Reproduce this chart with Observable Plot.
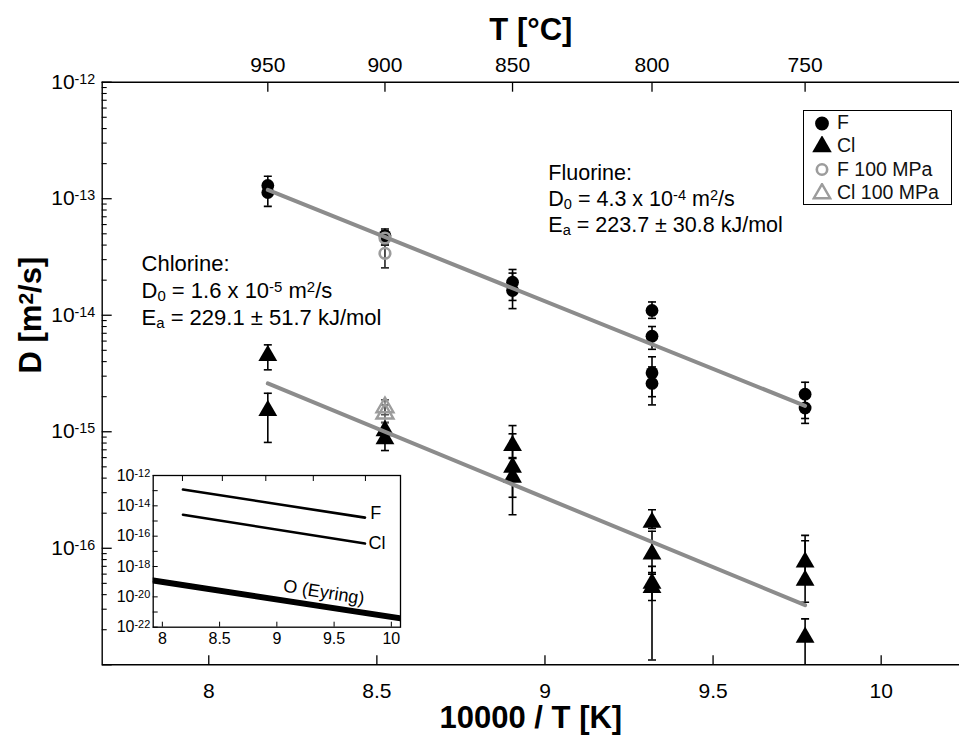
<!DOCTYPE html>
<html><head><meta charset="utf-8">
<script src="https://cdn.jsdelivr.net/npm/d3@7"></script>
<script src="https://cdn.jsdelivr.net/npm/@observablehq/plot@0.6"></script>
<style>
body{margin:0;background:#fff;}
#wrap{position:relative;width:959px;height:736px;font-family:"Liberation Sans",Arial,Helvetica,sans-serif;}
#inset{position:absolute;left:100px;top:460px;}
#legend{position:absolute;left:803px;top:110px;width:149px;height:95px;border:1.3px solid #000;background:#fff;box-sizing:border-box;}
#legend .row{position:absolute;left:0;height:23px;display:flex;align-items:center;font-size:19.5px;color:#111;white-space:nowrap;}
#legend .row svg{margin-left:8px;margin-right:5px;}
</style></head><body><div id="wrap"><div id="inset"></div><div id="legend"></div></div>
<script>
// ---------- data ----------
const xDomain = [7.683, 10.233];          // 10000/T [K] axis extent
const yDomain = [1e-17, 1e-12];           // D [m2/s] axis extent
const xTicks = [8, 8.5, 9, 9.5, 10];
const tempTicksC = [950, 900, 850, 800, 750];
const yDecades = [1e-12, 1e-13, 1e-14, 1e-15, 1e-16, 1e-17];
const yLabels = [1e-12, 1e-13, 1e-14, 1e-15, 1e-16];

// F (black circles)
const fT  = [950, 950, 900, 850, 850, 800, 800, 800, 800, 750, 750];
const fD  = [1.30e-13, 1.13e-13, 4.8e-14, 1.92e-14, 1.63e-14, 1.10e-14, 6.6e-15, 3.2e-15, 2.6e-15, 2.1e-15, 1.6e-15];
const fLo = [1.05e-13, 8.6e-14, 4.2e-14, 1.34e-14, 1.14e-14, 9.4e-15, 5.1e-15, 2.0e-15, 1.7e-15, 1.3e-15, 1.18e-15];
const fHi = [1.56e-13, 1.35e-13, 5.5e-14, 2.47e-14, 2.3e-14, 1.30e-14, 8.0e-15, 4.4e-15, 3.6e-15, 2.66e-15, 2.1e-15];
// F 100 MPa (grey open circles)
const f100T  = [900, 900];
const f100D  = [4.6e-14, 3.4e-14];
const f100Lo = [4.0e-14, 2.55e-14];
const f100Hi = [5.3e-14, 4.0e-14];
// Cl (black triangles)
const clT  = [950, 950, 900, 900, 850, 850, 850, 800, 800, 800, 800, 750, 750, 750];
const clD  = [4.5e-15, 1.52e-15, 1.02e-15, 8.7e-16, 7.6e-16, 4.96e-16, 4.07e-16, 1.67e-16, 8.9e-17, 5.0e-17, 4.6e-17, 7.6e-17, 5.3e-17, 1.72e-17];
const clLo = [3.4e-15, 8.1e-16, 8.5e-16, 6.9e-16, 5.9e-16, 2.74e-16, 1.94e-16, 1.48e-16, 6.2e-17, 3.56e-17, 1.1e-17, 5.2e-17, 3.44e-17, 5e-18];
const clHi = [5.57e-15, 2.14e-15, 1.2e-15, 1.0e-15, 1.13e-15, 9.6e-16, 6.0e-16, 2.14e-16, 1.4e-16, 7e-17, 6e-17, 1.29e-16, 1.16e-16, 2.48e-17];
// Cl 100 MPa (grey open triangles)
const cl100T  = [900, 900];
const cl100D  = [1.62e-15, 1.43e-15];
const cl100Lo = [1.4e-15, 1.2e-15];
const cl100Hi = [1.88e-15, 1.7e-15];
// Arrhenius fit lines (end points)
const fitT   = [950, 750];
const fitFD  = [1.19e-13, 1.67e-15];
const fitClD = [2.6e-15, 3.25e-17];

// annotations
const fluorineText = ["Fluorine:", "D_{0} = 4.3 x 10^{-4} m^{2}/s", "E_{a} = 223.7 ± 30.8 kJ/mol"];
const fluorineX = 9.01;
const fluorineY = [1.66e-13, 9.9e-14, 5.9e-14];
const chlorineText = ["Chlorine:", "D_{0} = 1.6 x 10^{-5} m^{2}/s", "E_{a} = 229.1 ± 51.7 kJ/mol"];
const chlorineX = 7.80;
const chlorineY = [2.75e-14, 1.62e-14, 9.4e-15];

// inset
const insetXDomain = [7.92, 10.08];
const insetYDomain = [1e-22, 1e-12];
const insetXTicks = [8, 8.5, 9, 9.5, 10];
const insetYDecades = [1e-12,1e-13,1e-14,1e-15,1e-16,1e-17,1e-18,1e-19,1e-20,1e-21,1e-22];
const insetYLabels = [1e-12, 1e-14, 1e-16, 1e-18, 1e-20, 1e-22];
const insetLineX = [8.18, 9.77];
const insetFD = [1.19e-13, 1.67e-15];
const insetClD = [2.6e-15, 3.25e-17];
const insetOX = [7.92, 10.08];
const insetOD = [1.2e-19, 3.8e-22];
const insetLabels = ["F", "Cl", "O (Eyring)"];
const insetLabelX = [9.815, 9.80, 9.41];
const insetLabelY = [3.1e-15, 3.5e-17, 2.0e-20];

const legendLabels = ["F", "Cl", "F 100 MPa", "Cl 100 MPa"];

// ---------- helpers ----------
const FONT = '"Liberation Sans", Arial, Helvetica, sans-serif';
const TFONT = '"Liberation Sans", Arial, sans-serif';
const toX = t => 10000 / (t + 273.15);
const rows = (T, D, lo, hi) => T.map((t, i) => ({x: toX(t), D: D[i], lo: lo ? lo[i] : null, hi: hi ? hi[i] : null}));
const F = rows(fT, fD, fLo, fHi), F100 = rows(f100T, f100D, f100Lo, f100Hi);
const Cl = rows(clT, clD, clLo, clHi), Cl100 = rows(cl100T, cl100D, cl100Lo, cl100Hi);
const fitF = rows(fitT, fitFD), fitCl = rows(fitT, fitClD);
const pow = d => `10^{${Math.round(Math.log10(d))}}`;
const num = d => String(d);
const minorOf = decs => decs.slice(1).flatMap(d => d3.range(2, 10).map(k => k * d));
const cap = {draw(ctx) { ctx.moveTo(-4, 0); ctx.lineTo(4, 0); }};
const GREY = "#8c8c8c", GSYM = "#9c9c9c";

function errorMarks(data, color) {
  const o = {x: "x", stroke: color, strokeWidth: 1.6, clip: true};
  return [
    Plot.ruleX(data, {...o, y1: "lo", y2: "hi"}),
    Plot.dot(data, {...o, y: "lo", symbol: cap, fill: "none"}),
    Plot.dot(data, {...o, y: "hi", symbol: cap, fill: "none"})
  ];
}

function rich(node) {
  node.querySelectorAll("text, tspan").forEach(t => {
    if (t.children.length) return;
    const s = t.textContent;
    if (!/[\^_]\{/.test(s)) return;
    t.textContent = "";
    const re = /([\^_])\{([^}]*)\}/g; let last = 0, m;
    const add = (str, shift) => {
      const ts = document.createElementNS("http://www.w3.org/2000/svg", "tspan");
      ts.textContent = str;
      if (shift) { ts.setAttribute("baseline-shift", shift === "^" ? "38%" : "-22%"); ts.setAttribute("font-size", "68%"); }
      t.appendChild(ts);
    };
    while ((m = re.exec(s))) { if (m.index > last) add(s.slice(last, m.index)); add(m[2], m[1]); last = re.lastIndex; }
    if (last < s.length) add(s.slice(last));
  });
}

// ---------- main chart ----------
const titleOpts = {fontSize: 31, fontWeight: "bold", fontFamily: TFONT, lineAnchor: "middle"};
const main = Plot.plot({
  width: 959, height: 736,
  marginLeft: 101.7, marginTop: 81.7, marginRight: 0, marginBottom: 71.7,
  x: {type: "linear", domain: xDomain},
  y: {type: "log", domain: yDomain},
  style: {fontFamily: FONT, fontSize: "21px", background: "white", color: "black", overflow: "visible"},
  marks: [
    Plot.axisY({ticks: yDecades, tickSize: -10, fill: "none", strokeWidth: 1.3, label: null}),
    Plot.axisY({ticks: minorOf(yDecades), tickSize: -5, fill: "none", strokeWidth: 1.1, label: null}),
    Plot.axisY({ticks: yLabels, tickSize: 0, tickPadding: 7, tickFormat: pow, fontSize: 21, label: null}),
    Plot.axisX({ticks: xTicks, anchor: "bottom", tickSize: -9, fill: "none", strokeWidth: 1.3, label: null}),
    Plot.axisX({ticks: xTicks, anchor: "bottom", tickSize: 0, tickPadding: 18, tickFormat: num, fontSize: 21, label: null}),
    Plot.axisX({ticks: tempTicksC.map(toX), anchor: "top", tickSize: -9, fill: "none", strokeWidth: 1.3, label: null}),
    Plot.axisX({ticks: tempTicksC.map(toX), anchor: "top", tickSize: 0, tickPadding: 10, fontSize: 21, label: null,
      tickFormat: x => String(Math.round(10000 / x - 273.15))}),
    Plot.ruleY([yDomain[1]], {strokeWidth: 1.4}),
    Plot.ruleY([yDomain[0]], {strokeWidth: 1.4}),
    Plot.ruleX([xDomain[0]], {strokeWidth: 1.4}),
    ...errorMarks(F, "black"),
    ...errorMarks(F100, "#222"),
    ...errorMarks(Cl, "black"),
    ...errorMarks(Cl100, "#555"),
    Plot.dot(F, {x: "x", y: "D", r: 6.4, fill: "black", stroke: "none"}),
    Plot.dot(Cl, {x: "x", y: "D", symbol: "triangle", r: 7, fill: "black", stroke: "none"}),
    Plot.dot(F100, {x: "x", y: "D", r: 5.3, fill: "none", stroke: GSYM, strokeWidth: 2.6}),
    Plot.dot(Cl100, {x: "x", y: "D", symbol: "triangle", r: 6.3, fill: "none", stroke: GSYM, strokeWidth: 2.4}),
    Plot.line(fitF, {x: "x", y: "D", stroke: GREY, strokeWidth: 4}),
    Plot.line(fitCl, {x: "x", y: "D", stroke: GREY, strokeWidth: 4}),
    Plot.text(fluorineText, {x: () => fluorineX, y: (d, i) => fluorineY[i], textAnchor: "start", fontSize: 21.5}),
    Plot.text(chlorineText, {x: () => chlorineX, y: (d, i) => chlorineY[i], textAnchor: "start", fontSize: 22}),
    Plot.text(["T [°C]"], {...titleOpts, frameAnchor: "top", dy: -52}),
    Plot.text(["10000 / T [K]"], {...titleOpts, frameAnchor: "bottom", dy: 53}),
    Plot.text(["D [m^{2}/s]"], {...titleOpts, frameAnchor: "left", dx: -71, rotate: -90})
  ]
});
rich(main);
document.getElementById("wrap").prepend(main);

// ---------- inset ----------
const iLine = (X, D) => X.map((x, i) => ({x, D: D[i]}));
const inset = Plot.plot({
  width: 330, height: 200,
  marginLeft: 52.7, marginTop: 15, marginRight: 30, marginBottom: 33.3,
  x: {type: "linear", domain: insetXDomain},
  y: {type: "log", domain: insetYDomain},
  style: {fontFamily: FONT, fontSize: "16px", background: "transparent", color: "black", overflow: "visible"},
  marks: [
    Plot.frame({fill: "white", stroke: "black", strokeWidth: 1.3}),
    Plot.axisY({ticks: insetYDecades, tickSize: -5, fill: "none", label: null}),
    Plot.axisY({ticks: insetYLabels, tickSize: 0, tickPadding: 3, tickFormat: pow, fontSize: 16, label: null}),
    Plot.axisX({ticks: insetXTicks, anchor: "bottom", tickSize: -5, fill: "none", label: null}),
    Plot.axisX({ticks: insetXTicks, anchor: "bottom", tickSize: 0, tickPadding: 5, tickFormat: num, fontSize: 16, label: null}),
    Plot.axisX({ticks: tempTicksC.map(toX), anchor: "top", tickSize: -5, fill: "none", label: null}),
    Plot.line(iLine(insetLineX, insetFD), {x: "x", y: "D", strokeWidth: 2.6, stroke: "black"}),
    Plot.line(iLine(insetLineX, insetClD), {x: "x", y: "D", strokeWidth: 2.6, stroke: "black"}),
    Plot.line(iLine(insetOX, insetOD), {x: "x", y: "D", strokeWidth: 6, stroke: "black", clip: true}),
    Plot.text(insetLabels.slice(0, 2), {x: (d, i) => insetLabelX[i], y: (d, i) => insetLabelY[i], textAnchor: "start", fontSize: 18}),
    Plot.text(insetLabels.slice(2), {x: () => insetLabelX[2], y: () => insetLabelY[2], rotate: 9, fontSize: 18})
  ]
});
rich(inset);
document.getElementById("inset").appendChild(inset);

// ---------- legend ----------
const legendStyles = [
  {type: d3.symbolCircle, fill: "#000", stroke: "none", sw: 0, size: 150},
  {type: d3.symbolTriangle, fill: "#000", stroke: "none", sw: 0, size: 165},
  {type: d3.symbolCircle, fill: "none", stroke: GSYM, sw: 2.6, size: 85},
  {type: d3.symbolTriangle, fill: "none", stroke: GSYM, sw: 2.4, size: 115}
];
const leg = d3.select("#legend");
legendLabels.forEach((lab, i) => {
  const s = legendStyles[i];
  const row = leg.append("div").attr("class", "row").style("top", (i * 23.4) + "px");
  const svg = row.append("svg").attr("width", 20).attr("height", 20);
  svg.append("path").attr("transform", "translate(10,10.5)")
    .attr("d", d3.symbol(s.type, s.size)()).attr("fill", s.fill).attr("stroke", s.stroke).attr("stroke-width", s.sw);
  row.append("span").text(lab);
});
</script></body></html>
